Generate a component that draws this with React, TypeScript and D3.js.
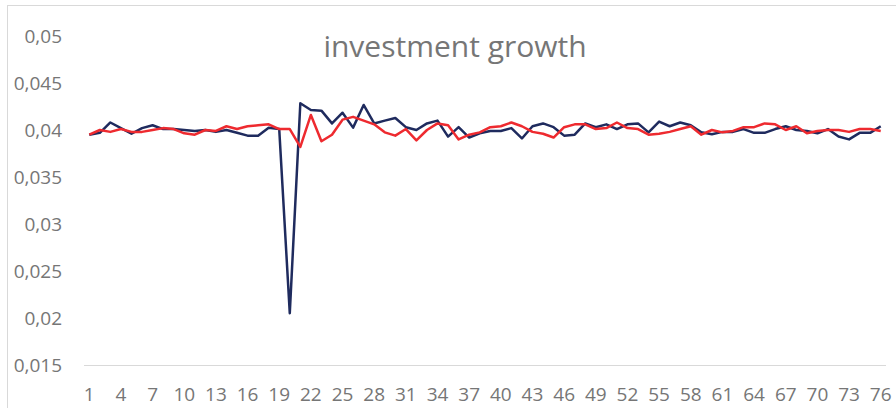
import React, { useEffect, useRef } from 'react';
import * as d3 from 'd3';

const W = 896;
const H = 408;

const periods = d3.range(1, 77);
const seriesA = [
  0.0395, 0.0397, 0.0408, 0.0402, 0.0396, 0.0402, 0.0405, 0.0401, 0.0401, 0.0400,
  0.0399, 0.0400, 0.0398, 0.0400, 0.0397, 0.0394, 0.0394, 0.04025, 0.0401, 0.0205,
  0.04284, 0.04213, 0.04206, 0.0407, 0.04184, 0.04025, 0.04266, 0.0407, 0.0410, 0.04128,
  0.0403, 0.0400, 0.0407, 0.0410, 0.0393, 0.0403, 0.0392, 0.03965, 0.0399, 0.0399,
  0.0402, 0.0391, 0.0404, 0.0407, 0.0403, 0.0394, 0.0395, 0.0407, 0.0403, 0.0406,
  0.0401, 0.0406, 0.0407, 0.03975, 0.0409, 0.0404, 0.0408, 0.0405, 0.03975, 0.03954,
  0.0398, 0.0398, 0.0401, 0.0397, 0.0397, 0.0401, 0.0404, 0.0400, 0.0399, 0.03965,
  0.0401, 0.0393, 0.0390, 0.0397, 0.0397, 0.0404,
];
const seriesB = [
  0.0395, 0.0400, 0.0398, 0.0401, 0.0398, 0.0398, 0.0400, 0.0402, 0.0401, 0.03965,
  0.0395, 0.0400, 0.0399, 0.0404, 0.0401, 0.0404, 0.0405, 0.0406, 0.0401, 0.0401,
  0.0382, 0.0416, 0.0388, 0.0395, 0.0411, 0.0414, 0.0410, 0.0406, 0.03975, 0.0394,
  0.0401, 0.0389, 0.0400, 0.0407, 0.0405, 0.0390, 0.0395, 0.03975, 0.0403, 0.0404,
  0.0408, 0.0404, 0.0398, 0.0396, 0.0392, 0.0403, 0.0406, 0.0406, 0.0401, 0.0402,
  0.0408, 0.0402, 0.0401, 0.0395, 0.0396, 0.0398, 0.0401, 0.0404, 0.0395, 0.0400,
  0.03975, 0.0399, 0.0403, 0.0403, 0.0407, 0.0406, 0.0400, 0.0404, 0.03965, 0.0399,
  0.0400, 0.0400, 0.0398, 0.0401, 0.0401, 0.0399,
];
const yTicks = [0.015, 0.02, 0.025, 0.03, 0.035, 0.04, 0.045, 0.05];

const series = [
  { name: 'A', values: seriesA, color: '#1f2b5e' },
  { name: 'B', values: seriesB, color: '#ee2a2f' },
];

const App = () => {
  const svgRef = useRef<SVGSVGElement>(null);

  useEffect(() => {
    if (!svgRef.current) return;
    const svg = d3.select(svgRef.current);
    svg.selectAll('*').remove();

    const x = d3.scaleBand<number>().domain(periods).range([84, 886]);
    const y = d3.scaleLinear().domain([0.015, 0.05]).range([365, 36]);
    const font = '"Open Sans", sans-serif';
    const textColor = '#767676';

    // chart frame (runs off the right and bottom edges)
    svg.append('rect')
      .attr('x', 7.5).attr('y', 5.5)
      .attr('width', 900).attr('height', 410)
      .attr('fill', '#fff')
      .attr('stroke', '#d9d9d9');

    // title
    svg.append('text')
      .attr('x', 455).attr('y', 57)
      .attr('text-anchor', 'middle')
      .attr('font-family', font)
      .attr('font-size', 30)
      .attr('fill', textColor)
      .text('investment growth');

    // y labels
    svg.selectAll('.ytick')
      .data(yTicks)
      .enter()
      .append('text')
      .attr('x', 62)
      .attr('y', d => y(d))
      .attr('dy', '0.35em')
      .attr('text-anchor', 'end')
      .attr('font-family', font)
      .attr('font-size', 19)
      .attr('fill', textColor)
      .text(d => String(d).replace('.', ','));

    // x axis line
    svg.append('line')
      .attr('x1', 84).attr('x2', 886)
      .attr('y1', y(0.015) + 0.5).attr('y2', y(0.015) + 0.5)
      .attr('stroke', '#d9d9d9')
      .attr('stroke-width', 1);

    const cx = (d: number) => (x(d) as number) + x.bandwidth() / 2;

    svg.selectAll('.xtick')
      .data(periods.filter(p => (p - 1) % 3 === 0))
      .enter()
      .append('text')
      .attr('x', d => cx(d))
      .attr('y', 401)
      .attr('text-anchor', 'middle')
      .attr('font-family', font)
      .attr('font-size', 19)
      .attr('fill', textColor)
      .text(d => d);

    const line = d3.line<number>()
      .x((_, i) => cx(periods[i]))
      .y(d => y(d));

    series.forEach(s => {
      svg.append('path')
        .attr('d', line(s.values))
        .attr('fill', 'none')
        .attr('stroke', s.color)
        .attr('stroke-width', 2.5)
        .attr('stroke-linejoin', 'round');
    });
  }, []);

  return (
    <svg
      ref={svgRef}
      width={W}
      height={H}
      style={{ position: 'fixed', left: 0, top: 0, background: '#fff' }}
    />
  );
};

export default App;
